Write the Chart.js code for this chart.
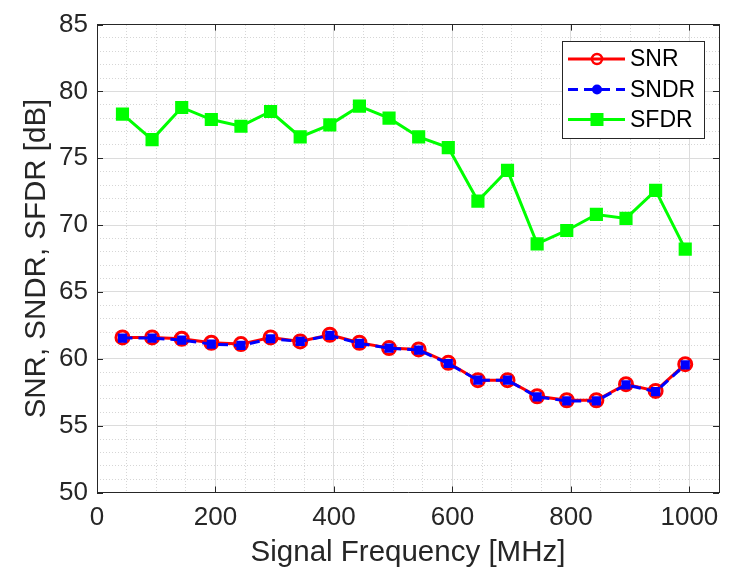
<!DOCTYPE html>
<html><head><meta charset="utf-8">
<style>html,body{margin:0;padding:0;background:#fff;}#wrap{width:732px;height:578px;}</style>
<script src="https://cdn.jsdelivr.net/npm/chart.js@4.4.1/dist/chart.umd.min.js"></script>
</head><body><div id="wrap"><canvas id="c" width="732" height="578"></canvas></div>
<script>
const freqMHz = [43, 93, 143, 193, 243, 293, 343, 393, 443, 493, 543, 593, 643, 693, 743, 793, 843, 893, 943, 993];
const snr  = [61.6, 61.6, 61.5, 61.2, 61.1, 61.6, 61.3, 61.8, 61.2, 60.8, 60.7, 59.7, 58.4, 58.4, 57.2, 56.9, 56.9, 58.1, 57.6, 59.6];
const sndr = [61.55, 61.55, 61.4, 61.1, 61.0, 61.5, 61.3, 61.75, 61.15, 60.8, 60.65, 59.65, 58.4, 58.4, 57.15, 56.85, 56.85, 58.05, 57.55, 59.55];
const sfdr = [78.3, 76.4, 78.8, 77.9, 77.4, 78.5, 76.6, 77.5, 78.9, 78.0, 76.6, 75.8, 71.8, 74.1, 68.6, 69.6, 70.8, 70.5, 72.6, 68.2];
const seriesNames = ['SNR', 'SNDR', 'SFDR'];
const xTickValues = [0, 200, 400, 600, 800, 1000];
const yTickValues = [50, 55, 60, 65, 70, 75, 80, 85];
const xTitle = 'Signal Frequency [MHz]';
const yTitle = 'SNR, SNDR, SFDR [dB]';

const FONT = "'Liberation Sans', Arial, sans-serif";
const TXT = '#262626';
const GRID = '#dcdcdc';
const MINOR = '#d6d6d6';
Chart.defaults.font.family = FONT;

const toPts = arr => arr.map((v, i) => ({x: freqMHz[i], y: v}));

const datasets = [
  {label: seriesNames[0], data: toPts(snr), borderColor: '#ff0000', borderWidth: 3,
   pointStyle: 'circle', pointRadius: 6.5, pointBorderWidth: 3, pointBorderColor: '#ff0000',
   pointBackgroundColor: 'rgba(255,255,255,0)', order: 1, mk: 'ring'},
  {label: seriesNames[1], data: toPts(sndr), borderColor: '#0000ff', borderWidth: 3, borderDash: [10, 6],
   pointStyle: 'rect', pointRadius: 6.5, pointBorderWidth: 0, pointBackgroundColor: '#0000ff',
   pointBorderColor: '#0000ff', order: 0, mk: 'dot'},
  {label: seriesNames[2], data: toPts(sfdr), borderColor: '#00ff00', borderWidth: 3,
   pointStyle: 'rect', pointRadius: 9.3, pointBorderWidth: 0, pointBackgroundColor: '#00ff00',
   pointBorderColor: '#00ff00', order: 2, mk: 'square'}
];

const tickMarks = {
  id: 'tickMarks',
  afterDraw(chart) {
    const ctx = chart.ctx, a = chart.chartArea, sx = chart.scales.x, sy = chart.scales.y, L = 6;
    ctx.save();
    ctx.strokeStyle = TXT; ctx.lineWidth = 1;
    ctx.beginPath();
    xTickValues.forEach(v => {
      const p = Math.round(sx.getPixelForValue(v)) + 0.5;
      ctx.moveTo(p, a.bottom); ctx.lineTo(p, a.bottom - L);
      ctx.moveTo(p, a.top); ctx.lineTo(p, a.top + L);
    });
    yTickValues.forEach(v => {
      const p = Math.round(sy.getPixelForValue(v)) + 0.5;
      ctx.moveTo(a.left, p); ctx.lineTo(a.left + L, p);
      ctx.moveTo(a.right, p); ctx.lineTo(a.right - L, p);
    });
    ctx.stroke();
    ctx.restore();
  }
};

const boxLegend = {
  id: 'boxLegend',
  afterDraw(chart) {
    const ctx = chart.ctx, a = chart.chartArea;
    const w = 142, h = 97;
    const x0 = Math.round(a.right - 15 - w), y0 = Math.round(a.top + 16);
    ctx.save();
    ctx.fillStyle = '#ffffff';
    ctx.fillRect(x0, y0, w, h);
    ctx.strokeStyle = '#262626'; ctx.lineWidth = 1;
    ctx.strokeRect(x0 + 0.5, y0 + 0.5, w, h);
    const rowY = [18, 48.5, 78.5];
    datasets.forEach((ds, i) => {
      const y = y0 + rowY[i];
      const lx1 = x0 + 6, lx2 = x0 + 63, mx = x0 + 35;
      ctx.save();
      ctx.strokeStyle = ds.borderColor; ctx.lineWidth = ds.borderWidth;
      ctx.setLineDash(ds.borderDash || []);
      ctx.beginPath(); ctx.moveTo(lx1, y); ctx.lineTo(lx2, y); ctx.stroke();
      ctx.restore();
      if (ds.mk === 'ring') {
        ctx.strokeStyle = ds.pointBorderColor; ctx.lineWidth = 2.5;
        ctx.beginPath(); ctx.arc(mx, y, 5, 0, Math.PI * 2); ctx.stroke();
      } else if (ds.mk === 'dot') {
        ctx.fillStyle = ds.pointBackgroundColor;
        ctx.beginPath(); ctx.arc(mx, y, 5, 0, Math.PI * 2); ctx.fill();
      } else {
        ctx.fillStyle = ds.pointBackgroundColor;
        ctx.fillRect(mx - 6.5, y - 6.5, 13, 13);
      }
      ctx.fillStyle = '#000000';
      ctx.font = '23px ' + FONT;
      ctx.textBaseline = 'middle'; ctx.textAlign = 'left';
      ctx.fillText(ds.label, x0 + 68, y + 1);
    });
    ctx.restore();
  }
};

new Chart(document.getElementById('c'), {
  type: 'line',
  data: {datasets},
  plugins: [tickMarks, boxLegend],
  options: {
    responsive: false, animation: false, devicePixelRatio: 1,
    layout: {padding: {top: 15, right: 13, left: 0, bottom: 0}},
    plugins: {legend: {display: false}, tooltip: {enabled: false}},
    elements: {line: {tension: 0}},
    scales: {
      x: {
        type: 'linear', position: 'bottom', min: 0, max: 1050,
        afterFit: s => { s.height = 85.5; },
        ticks: {stepSize: 200, includeBounds: false, padding: 10, color: TXT, font: {size: 26},
                maxRotation: 0, autoSkip: false,
                callback: v => xTickValues.includes(v) ? String(v) : ''},
        grid: {color: GRID, lineWidth: 1, drawTicks: false},
        border: {display: true, color: TXT, width: 1},
        title: {display: true, text: xTitle, color: TXT, font: {size: 29.5}, padding: {top: 0, bottom: 7}}
      },
      y: {
        type: 'linear', position: 'left', min: 50, max: 85,
        afterFit: s => { s.width = 97; },
        ticks: {stepSize: 5, padding: 9, color: TXT, font: {size: 26},
                callback: v => yTickValues.includes(v) ? String(v) : ''},
        grid: {color: GRID, lineWidth: 1, drawTicks: false},
        border: {display: true, color: TXT, width: 1},
        title: {display: true, text: yTitle, color: TXT, font: {size: 29.5}, padding: {top: 19, bottom: 0}}
      },
      x2: {
        type: 'linear', position: 'top', min: 0, max: 1050,
        afterFit: s => { s.height = 0; },
        ticks: {display: false, stepSize: 50},
        grid: {drawTicks: false, lineWidth: 1,
               color: c => (c.tick && c.tick.value % 200 === 0) ? 'rgba(0,0,0,0)' : MINOR},
        border: {display: true, color: TXT, width: 1, dash: [1, 2]}
      },
      y2: {
        type: 'linear', position: 'right', min: 50, max: 85,
        afterFit: s => { s.width = 0; },
        ticks: {display: false, stepSize: 1},
        grid: {drawTicks: false, lineWidth: 1,
               color: c => (c.tick && c.tick.value % 5 === 0) ? 'rgba(0,0,0,0)' : MINOR},
        border: {display: true, color: TXT, width: 1, dash: [1, 2]}
      }
    }
  }
});
</script>
</body></html>
